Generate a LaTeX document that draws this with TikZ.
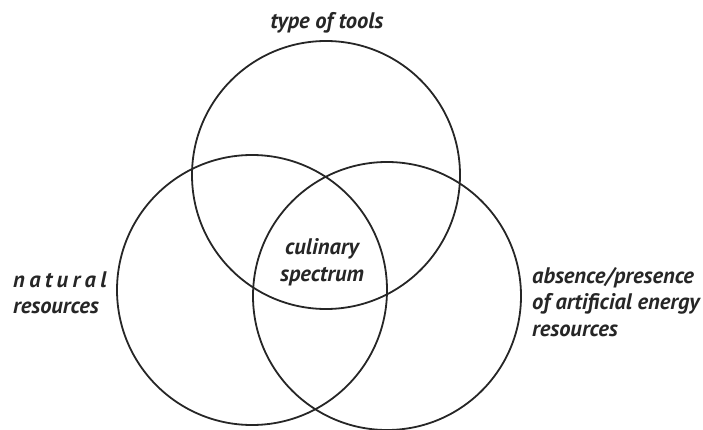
\documentclass[tikz,border=0pt]{standalone}
\usepackage{fontspec}
\setmainfont{PT Sans}
\begin{document}
\begin{tikzpicture}[x=1pt,y=-1pt,
  ring/.style={draw=black!85,line width=1.8pt},
  lab/.style={font=\fontsize{22.5}{26.5}\selectfont\bfseries\itshape,text=black!85,inner sep=0pt}]
\useasboundingbox (0,0) rectangle (703,430);
\draw[ring] (326,175) circle (134);
\draw[ring] (252,290) circle (135);
\draw[ring] (387,296) circle (134);
\node[lab] (top) at (327,23) {type of tools};
\node[lab,align=left,anchor=west] (left) at (13,293) {n\kern4.4pt a\kern4.4pt t\kern4.4pt u\kern4.4pt r\kern4.4pt a\kern4.4pt l\\resources};
\node[lab,align=left,anchor=west] (right) at (532,302) {absence/presence\\of artificial energy\\resources};
\node[lab,align=center] (mid) at (322,262) {culinary\\spectrum};
\end{tikzpicture}
\end{document}
